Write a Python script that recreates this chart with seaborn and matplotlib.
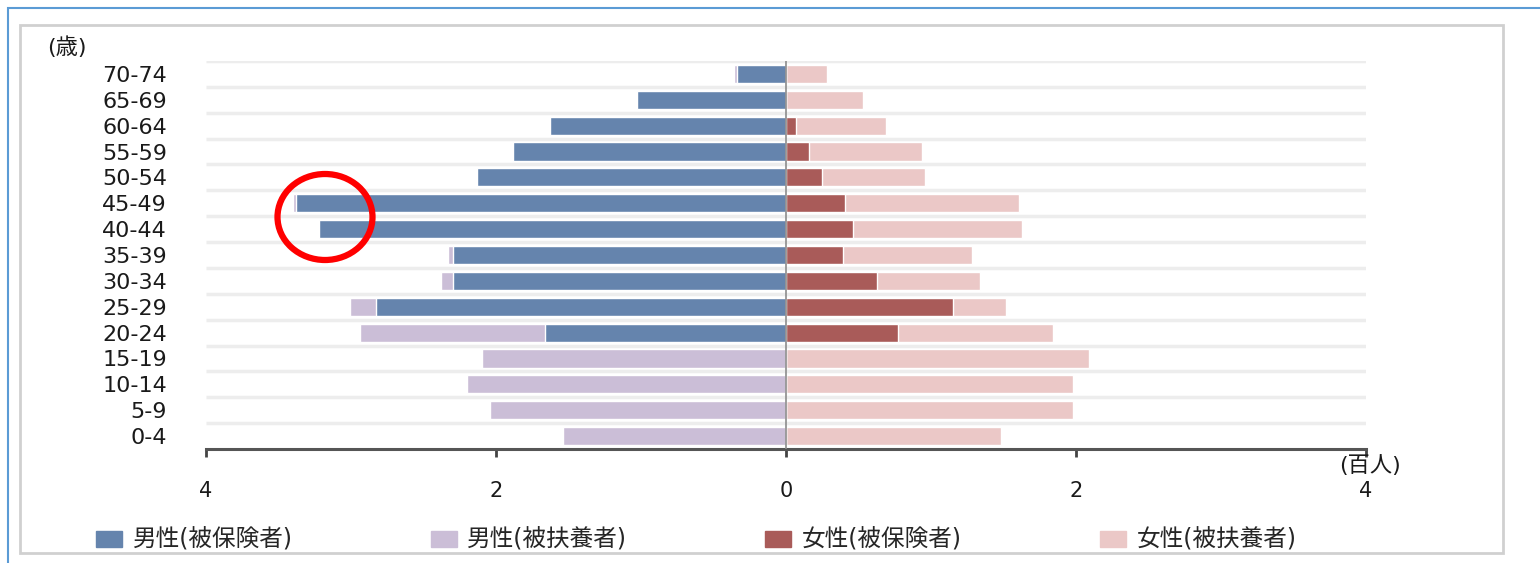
import numpy as np
import pandas as pd
import matplotlib
matplotlib.use("Agg")
import matplotlib.pyplot as plt
from matplotlib.patches import Rectangle, Ellipse, Patch
import seaborn as sns

# ---- data (hundreds of people) ----
age_groups = ["70-74", "65-69", "60-64", "55-59", "50-54", "45-49", "40-44",
              "35-39", "30-34", "25-29", "20-24", "15-19", "10-14", "5-9", "0-4"]
male_insured = [0.34, 1.03, 1.63, 1.88, 2.13, 3.38, 3.22, 2.30, 2.30, 2.83, 1.66,
                0.00, 0.00, 0.00, 0.00]
male_dependent = [0.02, 0.00, 0.00, 0.00, 0.00, 0.02, 0.00, 0.03, 0.08, 0.18, 1.28,
                  2.10, 2.20, 2.04, 1.54]
female_insured = [0.00, 0.00, 0.07, 0.16, 0.25, 0.41, 0.46, 0.39, 0.63, 1.15, 0.77,
                  0.00, 0.00, 0.00, 0.00]
female_dependent = [0.28, 0.53, 0.62, 0.78, 0.71, 1.20, 1.17, 0.89, 0.71, 0.37, 1.07,
                    2.09, 1.98, 1.98, 1.48]
x_ticks = [-4, -2, 0, 2, 4]
x_tick_labels = ["4", "2", "0", "2", "4"]
legend_labels = ["男性(被保険者)", "男性(被扶養者)", "女性(被保険者)", "女性(被扶養者)"]

colors = ["#6584AD", "#CBBED7", "#A95B59", "#EBC8C7"]

df = pd.DataFrame({
    "age": age_groups,
    "m_ins": -np.array(male_insured),
    "m_tot": -(np.array(male_insured) + np.array(male_dependent)),
    "f_ins": np.array(female_insured),
    "f_tot": np.array(female_insured) + np.array(female_dependent),
})

sns.set_theme(style="white")
plt.rcParams["font.family"] = ["DejaVu Sans", "Noto Sans CJK JP"]

W, H, DPI = 1540, 563, 100
fig = plt.figure(figsize=(W / DPI, H / DPI), dpi=DPI)
fig.patch.set_facecolor("white")

# frames
fig.patches.append(Rectangle((8 / W, -0.1), 1.2, 1 - 8 / H + 0.1, transform=fig.transFigure,
                             fill=False, edgecolor="#5B9BD5", lw=1.5, zorder=0))
fig.patches.append(Rectangle((20 / W, 1 - 553 / H), (1503 - 20) / W, (553 - 25) / H,
                             transform=fig.transFigure, fill=False, edgecolor="#D0D0D0",
                             lw=2, zorder=0))

ax = fig.add_axes([206 / W, 1 - 449 / H, (1366 - 206) / W, (449 - 61) / H])
ax.set_facecolor("none")

bw = 0.7
sns.barplot(data=df, y="age", x="m_tot", order=age_groups, color=colors[1],
            saturation=1, width=bw, orient="h", ax=ax, zorder=2)
sns.barplot(data=df, y="age", x="m_ins", order=age_groups, color=colors[0],
            saturation=1, width=bw, orient="h", ax=ax, zorder=3)
sns.barplot(data=df, y="age", x="f_tot", order=age_groups, color=colors[3],
            saturation=1, width=bw, orient="h", ax=ax, zorder=2)
sns.barplot(data=df, y="age", x="f_ins", order=age_groups, color=colors[2],
            saturation=1, width=bw, orient="h", ax=ax, zorder=3)

n = len(age_groups)
ax.set_xlim(-4, 4)
ax.set_ylim(n - 0.5, -0.5)
# horizontal gridlines at category boundaries
ax.hlines(np.arange(-0.5, n - 1), -4, 4, color="#EDEDED", lw=2.5, zorder=0)
ax.axvline(0, color="#8C8C8C", lw=1.2, zorder=4)

for s in ["top", "right", "left"]:
    ax.spines[s].set_visible(False)
ax.spines["bottom"].set_color("#555555")
ax.spines["bottom"].set_linewidth(2.2)

ax.set_xticks(x_ticks)
ax.set_xticklabels(x_tick_labels, fontsize=15)
ax.tick_params(axis="x", direction="out", length=6, width=2, color="#444444", pad=17,
               bottom=True, labelcolor="#1a1a1a")
ax.tick_params(axis="y", length=0, pad=28, labelsize=16, labelcolor="#1a1a1a")
ax.set_xlabel("")
ax.set_ylabel("")

fig.text(47 / W, 1 - 47 / H, "(歳)", fontsize=16, ha="left", va="center", color="#1a1a1a")
fig.text(1370 / W, 1 - 466 / H, "(百人)", fontsize=16, ha="center", va="center", color="#1a1a1a")

# highlight ellipse
fig.patches.append(Ellipse((325 / W, 1 - 217 / H), 95 / W, 86 / H, transform=fig.transFigure,
                           fill=False, edgecolor="#FF0000", lw=4.5, zorder=10))

handles = [Patch(facecolor=c, edgecolor=c) for c in colors]
fig.legend(handles, legend_labels, loc="center left", bbox_to_anchor=(96 / W, 1 - 540 / H),
           ncol=4, frameon=False, fontsize=17, handlelength=1.1, handleheight=0.65,
           handletextpad=0.45, columnspacing=5.85, borderpad=0.0, borderaxespad=0.0)

fig.savefig("out.png", dpi=DPI, facecolor="white")
